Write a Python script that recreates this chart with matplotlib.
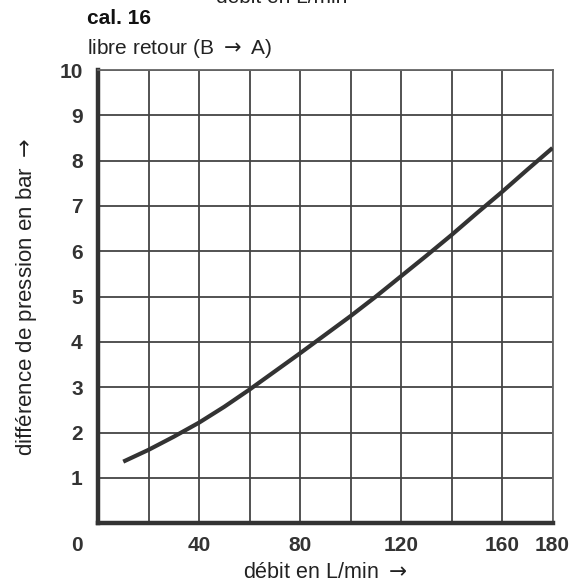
import matplotlib
matplotlib.use("Agg")
import matplotlib.pyplot as plt
import matplotlib.transforms as mtransforms
import numpy as np

# Data
flow = [10, 20, 30, 40, 50, 60, 70, 80, 90, 100, 110, 120, 130, 140, 150, 160, 170, 180]
dp = [1.36, 1.62, 1.91, 2.22, 2.57, 2.95, 3.35, 3.75, 4.16, 4.57, 5.00, 5.45, 5.90, 6.36, 6.84, 7.31, 7.80, 8.28]
xticks = [0, 40, 80, 120, 160, 180]
yticks = [1, 2, 3, 4, 5, 6, 7, 8, 9, 10]

FAM = ['Liberation Sans', 'DejaVu Sans']
plt.rcParams['font.family'] = FAM
plt.rcParams['mathtext.fontset'] = 'dejavusans'

fig = plt.figure(figsize=(5.8, 5.87), dpi=100)
ax = fig.add_axes([98/580, 1-523.3/587, (552.5-98)/580, (523.3-70)/587])

ax.plot(flow, dp, color='#333333', lw=3.0, solid_capstyle='butt',
        solid_joinstyle='round', zorder=3)

ax.set_xlim(0, 180)
ax.set_ylim(0, 10)
ax.set_xticks(np.arange(0, 181, 20), minor=True)
ax.set_yticks(np.arange(0, 11, 1), minor=True)
ax.set_xticks(xticks)
ax.set_yticks(yticks)
ax.set_xticklabels([str(v) for v in xticks])
ax.set_yticklabels([str(v) for v in yticks])
ax.grid(True, which='both', color='#444444', lw=1.3)
ax.set_axisbelow(True)
ax.tick_params(which='both', length=0)
ax.tick_params(axis='y', pad=11, labelsize=15, labelcolor='#333333')
ax.tick_params(axis='x', pad=9, labelsize=15, labelcolor='#333333')
for lab in ax.get_xticklabels() + ax.get_yticklabels():
    lab.set_fontweight('bold')
# shift the "0" x label to the left corner
off = mtransforms.ScaledTranslation(-21/100, 0, fig.dpi_scale_trans)
lab0 = ax.get_xticklabels()[0]
lab0.set_transform(lab0.get_transform() + off)

for s in ['left', 'bottom']:
    ax.spines[s].set_linewidth(3.2)
    ax.spines[s].set_color('#333333')
for s in ['top', 'right']:
    ax.spines[s].set_linewidth(1.3)
    ax.spines[s].set_color('#666666')

ax.set_xlabel('débit en L/min ${\\rightarrow}$', fontsize=15.5, color='#222222', labelpad=5)
ax.set_ylabel('différence de pression en bar ${\\rightarrow}$', fontsize=16, color='#222222', labelpad=15)

fig.text(87/580, 1-18/587, 'cal. 16', fontsize=15, fontweight='bold', va='center', ha='left', color='#111111')
fig.text(87/580, 1-49/587, 'libre retour (B ${\\rightarrow}$ A)', fontsize=15, va='center', ha='left', color='#222222')
fig.text(282/580, 1-3/587, 'débit en L/min', fontsize=15, va='baseline', ha='center', color='#222222')

fig.savefig('out.png', dpi=100)
